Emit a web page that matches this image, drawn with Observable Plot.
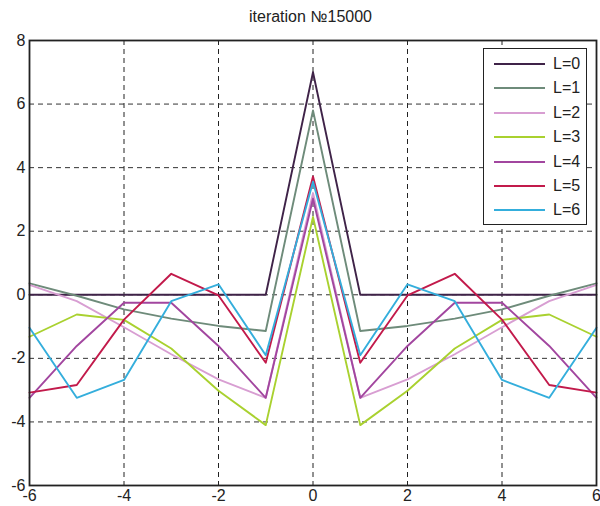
<!DOCTYPE html>
<html>
<head>
<meta charset="utf-8">
<script src="https://cdn.jsdelivr.net/npm/d3@7"></script>
<script src="https://cdn.jsdelivr.net/npm/@observablehq/plot@0.6"></script>
<style>
  body { margin: 0; background: #fff; }
  #wrap { position: relative; width: 600px; height: 506px; font-family: "Liberation Sans", Arial, sans-serif; }
  #wrap svg text { font-size: 16px; fill: #222; }
  #title { position: absolute; left: 0; width: 621px; top: 8px; text-align: center; font-size: 16px; color: #222; }
  #legend { position: absolute; left: 483px; top: 48px; width: 104px; height: 177px; border: 1.6px solid #222; background: #fff; box-sizing: border-box; }
  .row { position: absolute; left: 0; height: 20px; display: flex; align-items: center; }
  .sw { width: 51px; height: 2px; margin-left: 10px; margin-right: 8px; }
  .lab { font-size: 16px; color: #222; }
</style>
</head>
<body>
<div id="wrap"><div id="title">iteration №15000</div></div>
<script>
const xs = [-6, -5, -4, -3, -2, -1, 0, 1, 2, 3, 4, 5, 6];
const seriesNames = ["L=0", "L=1", "L=2", "L=3", "L=4", "L=5", "L=6"];
const colors = ["#3f2348", "#6e8b7a", "#d89ed2", "#a9d12f", "#a2469f", "#c21a4b", "#34aedc"];
const L0 = [0, 0, 0, 0, 0, 0, 7.0, 0, 0, 0, 0, 0, 0];
const L1 = [0.36, -0.03, -0.46, -0.75, -0.98, -1.14, 5.8, -1.14, -0.98, -0.75, -0.46, -0.03, 0.36];
const L2 = [0.31, -0.2, -1.02, -1.87, -2.66, -3.24, 3.2, -3.24, -2.66, -1.87, -1.02, -0.2, 0.31];
const L3 = [-1.32, -0.62, -0.79, -1.69, -3.02, -4.1, 2.45, -4.1, -3.02, -1.69, -0.79, -0.62, -1.32];
const L4 = [-3.24, -1.61, -0.25, -0.25, -1.61, -3.24, 3.02, -3.24, -1.61, -0.25, -0.25, -1.61, -3.24];
const L5 = [-3.08, -2.84, -0.78, 0.66, -0.02, -2.14, 3.72, -2.14, -0.02, 0.66, -0.78, -2.84, -3.08];
const L6 = [-1.04, -3.24, -2.68, -0.2, 0.33, -1.9, 3.56, -1.9, 0.33, -0.2, -2.68, -3.24, -1.04];
const xTicks = [-6, -4, -2, 0, 2, 4, 6];
const yTicks = [-6, -4, -2, 0, 2, 4, 6, 8];

const allSeries = [L0, L1, L2, L3, L4, L5, L6];
const data = allSeries.flatMap((vals, i) => vals.map((v, j) => ({x: xs[j], y: v, s: seriesNames[i]})));

const chart = Plot.plot({
  width: 600,
  height: 506,
  marginLeft: 29,
  marginRight: 4,
  marginTop: 40,
  marginBottom: 21,
  style: {fontFamily: "'Liberation Sans', Arial, sans-serif", fontSize: "16px", background: "transparent", color: "#222"},
  x: {domain: [-6, 6], ticks: xTicks, tickSize: 0, tickPadding: 4, label: null, tickFormat: d => String(d)},
  y: {domain: [-6, 8], ticks: yTicks, tickSize: 0, tickPadding: 4, label: null, tickFormat: d => String(d)},
  color: {domain: seriesNames, range: colors},
  marks: [
    Plot.gridX(xTicks, {stroke: "#222", strokeOpacity: 1, strokeDasharray: "5,4", strokeWidth: 1}),
    Plot.gridY(yTicks, {stroke: "#333", strokeOpacity: 1, strokeDasharray: "5,4", strokeWidth: 1}),
    Plot.line(data, {x: "x", y: "y", z: "s", stroke: "s", strokeWidth: 1.9}),
    Plot.frame({stroke: "#222", strokeWidth: 1.8})
  ]
});
const wrap = document.getElementById("wrap");
wrap.insertBefore(chart, wrap.firstChild);

const legend = document.createElement("div");
legend.id = "legend";
seriesNames.forEach((n, i) => {
  const row = document.createElement("div");
  row.className = "row";
  row.style.top = (5 + i * 24.4) + "px";
  const sw = document.createElement("div");
  sw.className = "sw";
  sw.style.background = colors[i];
  const lab = document.createElement("span");
  lab.className = "lab";
  lab.textContent = n;
  row.appendChild(sw);
  row.appendChild(lab);
  legend.appendChild(row);
});
wrap.appendChild(legend);
</script>
</body>
</html>
